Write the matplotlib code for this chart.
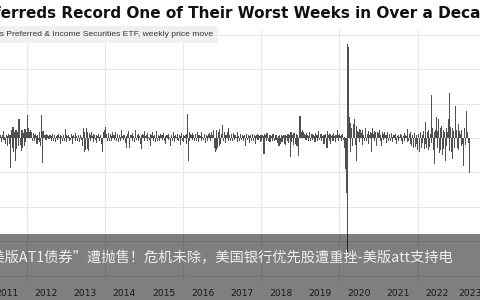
import numpy as np
import pandas as pd
import matplotlib
matplotlib.use("Agg")
import matplotlib.pyplot as plt
from matplotlib.patches import Rectangle

# ---------------- text ----------------
title = "Preferreds Record One of Their Worst Weeks in Over a Decade"
subtitle = "iShares Preferred & Income Securities ETF, weekly price move"
banner_text = "“美版AT1债券”遭抛售！危机未除，美国银行优先股遭重挫-美版att支持电\n报"
year_labels = [str(y) for y in range(2011, 2024)]

# ---------------- data: weekly price move (%) ----------------
first_friday = {
    2011: "2011-04-15", 2012: "2012-01-06", 2013: "2013-01-04", 2014: "2014-01-03",
    2015: "2015-01-02", 2016: "2016-01-01", 2017: "2017-01-06", 2018: "2018-01-05",
    2019: "2019-01-04", 2020: "2020-01-03", 2021: "2021-01-01", 2022: "2022-01-07",
    2023: "2023-01-06",
}
moves_2011 = [0.3, -0.4, 0.5, 0.2, -0.6, 0.4, 1.0, -0.3, 0.2, -0.8, 0.5, 0.3, -1.2, 0.6, -0.9, 0.4,
              -4.3,
              1.2, -1.5, 1.6, -2.0, 0.8, -3.3, 1.1, -1.6, 0.9, -1.2, 2.7, 1.4, -1.0, -1.9, 1.2, -1.5,
              0.7, -1.1, 1.3, -0.6, 0.8]
moves_2012 = [3.4, 1.0, 1.5, 0.8, 1.2, 0.6, 0.9, -0.4, 0.7,
              0.4, -0.5, 0.6, 0.3, -0.8, 0.5, -0.3, 0.9, -0.6, -1.2, 3.3, -3.6,
              1.0, 0.6, 0.4, 0.5, -0.3, 0.6, 0.4, 0.3, -0.2, 0.5, 0.4, -0.5, 0.3, 0.6, -0.4,
              0.2, 0.5, -0.6, 0.3, 0.4, -0.3, 0.6, 0.2, -0.8, 0.4, 0.3, -0.5, 0.5, 0.2, -0.4, 1.3]
moves_2013 = [0.4, -0.6, 0.3, 0.5, -0.4, 0.2, -0.3, 0.6, 0.3, -0.9, 0.4, 0.2, -0.5, 0.7, 0.3,
              -0.4, 0.5, 0.3, -0.6, 0.4, -0.3, 0.2,
              -1.2, 1.4, -2.1, 0.8, -1.8, 1.5, -1.6, 0.9, -1.9, 0.7,
              0.5, -0.4, 0.8, 0.3, -0.6, 0.6, 0.4, -0.3, 0.5, -0.7, 0.3, 0.6, -0.5, 0.2, 0.4, -0.8,
              -1.2, -2.1, 0.8, 1.2]
moves_2014 = [1.6, 1.0, 0.6, -0.5,
              0.7, 0.5, -0.4, 0.6, 0.3, -0.5, 0.8, 0.4, -0.3, 0.5, 0.9, -0.4, 0.3, 0.6, -0.6,
              0.4, 0.2, -0.5, 1.1, 0.3, -0.3, 0.5, 0.4, -0.7, 0.3,
              -1.5, 0.6, 1.0, -0.3, -1.5,
              0.4, 0.5, -0.4, 0.7, 0.3, -0.6, 0.5, 1.2, -0.3, 0.4, 0.6, -0.5, 0.3, -0.8, 0.5,
              -1.6, 0.6, 0.4]
moves_2015 = [1.0, -0.5, 0.3, 0.5, -0.4, 0.7, 0.2, -0.3, 0.6, -1.2, 0.4, 0.8, -0.5, 0.3, 0.5,
              -0.6, 1.0, 0.3, -0.4, 0.4,
              0.3, -0.5, 0.6, 0.4, -0.3, 0.5, 0.7, -0.4, 0.3, -0.8, 0.5, 0.4, -0.3, 0.6, 0.2,
              -1.1, 0.4, 0.5, -0.4, 0.8, 0.3, -0.6, 0.4, 0.2, -0.3, 0.6, -0.5, 0.4, -1.0, 0.3,
              0.7, -0.4]
moves_2016 = [0.5, -0.6, 0.3, 0.4, -0.8, 0.6, 3.5, -3.3,
              0.8, -0.5, 0.6, 0.4, -0.3, 0.7, 0.5, -0.4, 0.6, 0.3, -0.5, 0.8, 0.4, -0.6, 0.5,
              0.3, -0.4, 0.9, 0.2, -0.3, 0.6, 0.4, -0.7, 0.5, 0.3, -0.4, 0.6, 0.7, -0.5, 0.4,
              0.8, 0.5,
              1.2, 0.9, -1.4, -2.0, 1.1, -1.8, -1.5, 0.8, -1.2, 1.3, -0.9, 0.6, 1.9]
moves_2017 = [0.6, -0.5, 0.8, 0.4, -0.7, 0.5, 0.9, -0.4, 1.5,
              0.5, -0.4, 0.6, 0.3, -0.5, 0.7, 0.4, -0.3, 0.5, 0.2, -0.6, 0.8, 0.3, -0.4, 0.5,
              0.6, -0.3, 0.4, -0.5, 0.3, 0.5, -1.1,
              0.4, 0.6, -0.3, 0.5, -0.7, 0.3, 0.4, -0.5, 0.6, 0.2, -0.4, 0.5, 0.3, -0.8, 0.4,
              0.6, -0.3, 0.5, 0.3, -0.6, 0.4]
moves_2018 = [-0.4, 0.5, 0.3, -2.3,
              0.6, 0.4, -0.5, 0.7, 0.3, -0.4, 0.5, -0.6, 0.4, 0.3, -0.5, 0.6, 0.2, -0.4, 0.5,
              -0.3, 0.4, -0.7, 0.3, -1.1, 0.5, -0.9, 0.4, -0.6, 0.3, 0.5, -0.8, 0.4, -1.0, 0.3,
              -0.5, 0.6, -0.7, 0.4, -2.8,
              0.8, -0.6, 0.5, -1.0, 0.7, 0.4, -0.8, 0.6, -1.2, 0.5, -2.6, 0.9, 3.2]
moves_2019 = [1.4, 0.8, 1.1, 0.5, 0.9,
              0.6, 0.4, -0.3, 0.7, 0.5, -0.4, 0.3, 0.8, -0.5, 0.4, 0.6, -0.3, 0.5, 0.3, -0.6,
              0.7, 0.4, -0.4, 0.5, 1.0, -0.3, 0.4, 0.6, -0.5, 0.3, 0.5, -0.8, 0.4, 0.6, -0.3,
              -1.4, 1.0,
              0.4, -0.5, 0.6, -0.8, 0.3, 0.5, -0.4, 0.7, 0.3, -0.6, 0.4, 0.5, 1.1, 0.5, -0.4]
moves_2020 = [0.6, 0.3, -0.5, 0.4, 0.6, -0.3, 0.2,
              -1.5, -4.5, -8.0, -16.5, 13.7, 13.2,
              3.0, -2.0, 2.2, 1.5, -1.2, 2.0, 1.2, 2.7, -1.0, -3.3, 1.8, 1.0,
              0.9, 1.3, -0.6, 1.1, 0.7, -1.0, 1.2, 0.5, -0.5, 0.8, 1.4, -0.4, 0.6, 1.0, -0.8,
              0.5, 0.9, -2.0, 0.7, 1.5,
              0.6, 1.0, -0.5, 0.8, -1.2, 0.4, 0.9]
moves_2021 = [0.7, 1.1, -0.4, 0.5, -1.1, 0.8, 0.6, -0.3, 0.9, 0.4, -0.7, 0.5, 0.8, -0.5, 0.3,
              0.6, -0.4, 0.7, 0.2, -0.6, 0.5, 0.4, -0.3, 0.6, -0.8, 0.3, 0.5, -0.4, 0.2, 0.6,
              -0.5, 0.4, -0.9, 0.3, 0.7, -0.4, 0.5, 0.3, -0.6, 1.3,
              -0.5, 0.6, -0.8, 0.9, -1.2, 0.4, -0.9, -1.5, 0.7, -1.3, 0.5, -0.8, -1.8]
moves_2022 = [0.6, -1.0, -2.1, 0.8, -1.4, 0.5, -0.7, 1.0, -1.6, 2.3,
              -0.9, -1.5, 0.8, -1.8, 1.2, -1.3, 0.6, -0.7, 6.2,
              1.5, -1.8, 0.8, -3.8, 1.2, 3.0, -1.5, 1.0, 2.8, -2.2, 1.5, -1.8, 1.8, -2.5, 1.1,
              -1.6, 0.8, -3.3, 1.4, -1.2, 0.9, 2.8, -1.9, 6.5, 1.6, -2.0, 1.4, -3.1, 1.0, -1.5,
              0.9, 4.6, 1.2]
moves_2023 = [-1.5, 2.0, -1.8, 1.0, 0.6, -1.2, 1.1, -0.8, -4.0, 0.9, 1.4, -1.0, 3.9, 0.8, 0.5,
              -0.7, -5.1]

yearly = {2011: moves_2011, 2012: moves_2012, 2013: moves_2013, 2014: moves_2014,
          2015: moves_2015, 2016: moves_2016, 2017: moves_2017, 2018: moves_2018,
          2019: moves_2019, 2020: moves_2020, 2021: moves_2021, 2022: moves_2022,
          2023: moves_2023}

dates, vals = [], []
for yr, mv in yearly.items():
    d = pd.date_range(first_friday[yr], periods=len(mv), freq="W-FRI")
    dates.extend(list(d))
    vals.extend(mv)
dates = pd.DatetimeIndex(dates)
vals = np.array(vals, dtype=float)

# ---------------- layout helpers ----------------
W, H = 480, 300
fx = lambda px: px / W
fy = lambda py: 1 - py / H

def yr_to_date(y):
    return pd.Timestamp("2012-01-01") + pd.Timedelta(days=(y - 2012) * 365.25)

PX_PER_YEAR = 39.1
X2012 = 26.7
xmin = yr_to_date(2012 - X2012 / PX_PER_YEAR)
xmax = yr_to_date(2012 + (W - X2012) / PX_PER_YEAR)

ZERO_PX, PX_PER_PCT = 138.0, 6.88
ax_top_px, ax_bot_px = 30.0, 281.0

fig = plt.figure(figsize=(4.8, 3.0), dpi=100)
fig.patch.set_facecolor("white")
ax = fig.add_axes([0, fy(ax_bot_px), 1, (ax_bot_px - ax_top_px) / H])
ax.set_facecolor("white")

ax.bar(dates.to_pydatetime(), vals, width=10, color="#505050", linewidth=0, zorder=3)

ax.set_xlim(xmin, xmax)
ax.set_ylim((ZERO_PX - ax_bot_px) / PX_PER_PCT, (ZERO_PX - ax_top_px) / PX_PER_PCT)

ax.set_yticks(np.arange(-20, 16, 5))
ax.tick_params(axis="y", left=False, labelleft=False)
grid_years = [pd.Timestamp(f"{y}-01-01") for y in range(2012, 2024, 2)]
ax.set_xticks(grid_years)
ax.tick_params(axis="x", which="major", bottom=False, labelbottom=False)
label_pos = [pd.Timestamp(f"{y}-07-02") for y in range(2011, 2023)]
label_pos.append(min(pd.Timestamp("2023-07-02"), xmax - pd.Timedelta(days=93)))
ax.set_xticks(label_pos, minor=True)
ax.set_xticklabels(year_labels, minor=True)
ax.tick_params(axis="x", which="minor", length=0, pad=6, labelsize=6.6, labelcolor="#333333")
ax.grid(True, which="major", color="#e8e8e8", linewidth=0.8, zorder=0)
for s in ax.spines.values():
    s.set_visible(False)

# title & subtitle
fig.text(fx(-35), fy(13), title, fontsize=11, fontweight="bold", color="#111111",
         ha="left", va="center", family="DejaVu Sans")
fig.add_artist(Rectangle((0, fy(43)), fx(218), (43 - 26) / H, transform=fig.transFigure,
                         facecolor="#f0f0f0", edgecolor="none", zorder=5))
fig.text(fx(213), fy(34.5), subtitle, fontsize=6.1, color="#333333", ha="right", va="center",
         family="Liberation Sans", zorder=6)

# dark translucent banner
fig.add_artist(Rectangle((0, 0), 1, (H - 234) / H, transform=fig.transFigure,
                         facecolor="black", alpha=0.5, edgecolor="none", zorder=10))
fig.text(fx(453), fy(251), banner_text, fontsize=10.3, color="#eeeeee", ha="right",
         va="top", multialignment="left", linespacing=1.45,
         family=["Noto Sans CJK SC", "DejaVu Sans"], zorder=11)

fig.savefig("out.png", dpi=100)
